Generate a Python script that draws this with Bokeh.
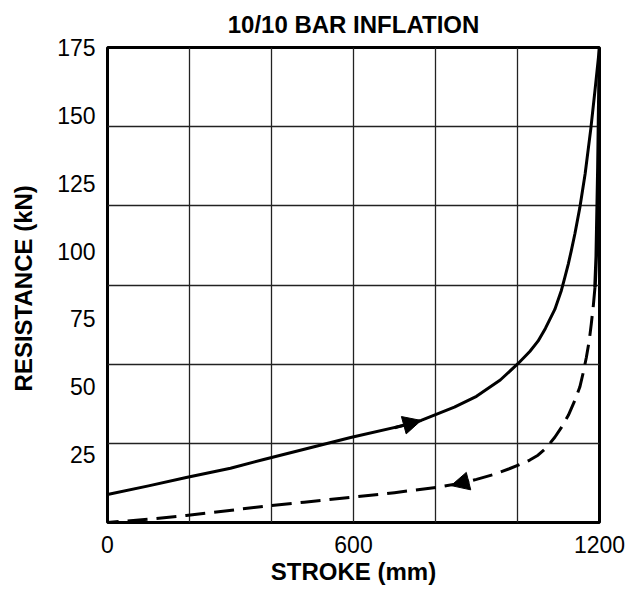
from bokeh.plotting import figure
from bokeh.models import Arrow, NormalHead, FixedTicker, Range1d
from bokeh.embed import file_html
from bokeh.resources import INLINE

# ---- data ----
load_stroke = [0, 100, 192, 300, 381, 480, 593, 720, 765, 846, 900, 958, 1001, 1030,
               1050, 1068, 1091, 1107, 1115, 1124, 1131, 1140, 1152, 1165, 1179, 1189, 1200]
load_res = [10.3, 13.5, 16.6, 20.0, 23.2, 27.0, 31.3, 35.7, 37.6, 42.5, 46.5, 52.5, 58.5, 63.0,
            66.8, 71.5, 78.5, 85.5, 90.0, 95.3, 100.0, 106.4, 116.0, 128.5, 145.3, 159.2, 175.0]

unload_top_stroke = [1200, 1196, 1192, 1189]
unload_top_res = [175.0, 130.0, 98.0, 86.7]

unload_stroke = [1189, 1185, 1180, 1175, 1168, 1160, 1152, 1140, 1124, 1108, 1091, 1070,
                 1050, 1030, 1013, 980, 940, 900, 866, 801, 700, 591, 480, 380, 192, 100, 0]
unload_res = [86.7, 80.0, 73.2, 67.0, 60.9, 55.0, 49.9, 45.0, 39.5, 35.2, 31.4, 27.5,
              24.8, 23.0, 21.8, 19.8, 17.6, 15.9, 14.6, 12.9, 11.0, 9.2, 7.5, 5.9, 2.6, 1.2, 0.0]

load_arrow = [700, 34.9, 765, 37.6]
unload_arrow = [882, 15.3, 838, 13.6]

x_ticks = [0, 600, 1200]
y_ticks = [25, 50, 75, 100, 125, 150, 175]
grid_x = [200, 400, 600, 800, 1000]
grid_y = [29.17, 58.33, 87.5, 116.67, 145.83]

title_text = "10/10 BAR INFLATION"
x_label = "STROKE (mm)"
y_label = "RESISTANCE  (kN)"
FONT = "Liberation Sans"

p = figure(width=640, height=590, output_backend="svg", toolbar_location=None,
           x_range=Range1d(0, 1200), y_range=Range1d(0, 175),
           min_border_left=107, min_border_right=41, min_border_top=47, min_border_bottom=68)
p.background_fill_color = "white"
p.border_fill_color = "white"
p.outline_line_color = "black"
p.outline_line_width = 3

p.title.text = title_text
p.title.text_font = FONT
p.title.text_font_size = "24px"
p.title.text_font_style = "bold"
p.title.text_color = "black"
p.title.align = "center"
p.title.vertical_align = "top"
p.title.standoff = 15

for ax in (p.xaxis, p.yaxis):
    ax.axis_line_color = None
    ax.major_tick_line_color = None
    ax.minor_tick_line_color = None
    ax.major_tick_out = 0
    ax.major_tick_in = 0
    ax.minor_tick_out = 0
    ax.minor_tick_in = 0
    ax.major_label_text_font = FONT
    ax.major_label_text_font_size = "23px"
    ax.major_label_text_color = "black"
    ax.axis_label_text_font = FONT
    ax.axis_label_text_font_size = "24px"
    ax.axis_label_text_font_style = "bold"
    ax.axis_label_text_color = "black"
p.xaxis.ticker = FixedTicker(ticks=x_ticks)
p.yaxis.ticker = FixedTicker(ticks=y_ticks)
p.xaxis.major_label_standoff = 13
p.yaxis.major_label_standoff = 12
p.xaxis.axis_label = x_label
p.yaxis.axis_label = y_label
p.xaxis.axis_label_standoff = 2
p.yaxis.axis_label_standoff = 17

p.xgrid.ticker = FixedTicker(ticks=grid_x)
p.ygrid.ticker = FixedTicker(ticks=grid_y)
for g in (p.xgrid, p.ygrid):
    g.grid_line_color = "#222222"
    g.grid_line_width = 1.3
    g.grid_line_alpha = 1.0

p.line(load_stroke, load_res, line_color="black", line_width=3, line_join="round")
p.line(unload_top_stroke, unload_top_res, line_color="black", line_width=3.5)
p.line(unload_stroke, unload_res, line_color="black", line_width=3, line_dash="20 9",
       line_join="round")

for a in (load_arrow, unload_arrow):
    p.add_layout(Arrow(x_start=a[0], y_start=a[1], x_end=a[2], y_end=a[3],
                       line_width=3, line_color="black",
                       end=NormalHead(size=18, fill_color="black", line_color="black")))

open("out.html", "w").write(file_html(p, INLINE))
